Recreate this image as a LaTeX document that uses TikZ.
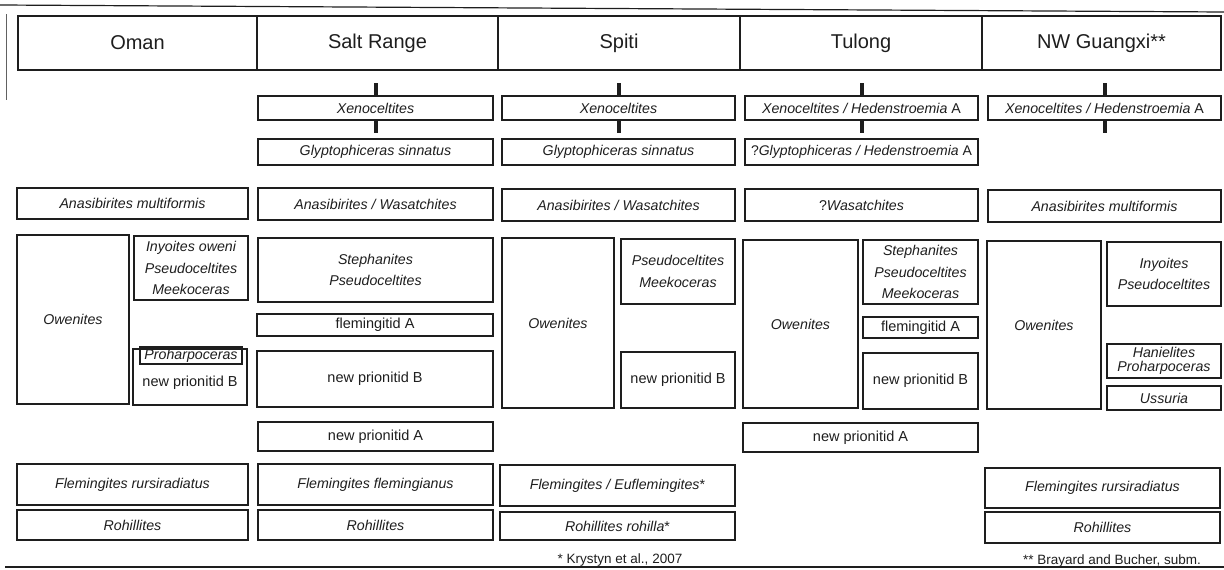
\documentclass[tikz,border=0pt]{standalone}
\usepackage{fontspec}
\setmainfont{Liberation Sans}
\definecolor{ink}{RGB}{30,30,30}
\newcommand{\spbox}[7][]{\node[bx,#1,minimum width={#5-#3},minimum height={#6-#4}] (#2) at ({(#3+#5)/2},{(#4+#6)/2}) {#7};}
\begin{document}
\begin{tikzpicture}[x=1pt,y=-1pt,
  bx/.style={draw=ink,line width=1.2pt,inner sep=0pt,text=ink,align=center,font=\fontsize{14.2}{21.5}\selectfont\itshape},
  hd/.style={font=\fontsize{20}{24}\selectfont\upshape},
  up/.style={font=\fontsize{14.5}{21.5}\selectfont\upshape},
  tight/.style={font=\fontsize{14.2}{14.5}\selectfont\itshape},
  txt/.style={text=ink,inner sep=0pt,align=center},
  tickbar/.style={draw=ink,line width=4pt},
  rule/.style={draw=ink,line width=1.2pt}]
\useasboundingbox (0,0) rectangle (1224,570);
% frame lines
\coordinate (tl) at (0,5); \coordinate (tr) at (1224,12);
\draw[rule] (tl) -- (tr);
\coordinate (lt) at (6,14); \coordinate (lb) at (6,100);
\draw[draw=ink!70,line width=1pt] (lt) -- (lb);
\coordinate (bl) at (5,567); \coordinate (br) at (1224,567);
\draw[rule] (bl) -- (br);
% headers
\spbox[hd]{h1}{18}{16}{257}{70}{Oman}
\spbox[hd]{h2}{257}{16}{498}{70}{Salt Range}
\spbox[hd]{h3}{498}{16}{740}{70}{Spiti}
\spbox[hd]{h4}{740}{16}{982}{70}{Tulong}
\spbox[hd]{h5}{982}{16}{1221}{70}{NW Guangxi**}
% Xenoceltites row
\spbox{sx}{258}{96}{493}{120}{Xenoceltites}
\spbox{px}{502}{96}{735}{120}{Xenoceltites}
\spbox{tx}{745}{96}{978}{120}{Xenoceltites / Hedenstroemia \upshape A}
\spbox{nx}{988}{96}{1221}{120}{Xenoceltites / Hedenstroemia \upshape A}
\foreach \n in {sx,px,tx,nx}{
  \draw[tickbar] (\n.north) -- ++(0,-12);
  \draw[tickbar] (\n.south) -- ++(0,12);
}
% Glyptophiceras row
\spbox{sg}{258}{139}{493}{165}{Glyptophiceras sinnatus}
\spbox{pg}{502}{139}{735}{165}{Glyptophiceras sinnatus}
\spbox[font=\fontsize{14}{21.5}\selectfont\itshape]{tg}{745}{139}{978}{165}{{\upshape ?}Glyptophiceras / Hedenstroemia \upshape A}
% Anasibirites row
\spbox{oa}{17}{188}{248}{219}{Anasibirites multiformis}
\spbox{sa}{258}{188}{493}{220}{Anasibirites / Wasatchites}
\spbox{pa}{502}{189}{735}{221}{Anasibirites / Wasatchites}
\spbox{ta}{745}{189}{978}{221}{{\upshape ?}Wasatchites}
\spbox{na}{988}{190}{1221}{222}{Anasibirites multiformis}
% Oman middle
\spbox{oo}{17}{235}{129}{404}{Owenites}
\spbox{oi}{134}{236}{248}{300}{Inyoites oweni\\Pseudoceltites\\Meekoceras}
\spbox{ol}{133}{349}{247}{405}{}
\spbox{op}{140}{347}{242}{364}{Proharpoceras}
\node[txt,up] (onb) at (190,383) {new prionitid B};
% Salt Range middle
\spbox{ss}{258}{238}{493}{302}{Stephanites\\Pseudoceltites}
\spbox[up]{sf}{257}{314}{493}{336}{flemingitid A}
\spbox[up]{sb}{257}{351}{493}{407}{new prionitid B}
\spbox[up]{sn}{258}{422}{493}{451}{new prionitid A}
% Spiti middle
\spbox{po}{502}{238}{614}{408}{Owenites}
\spbox{pp}{621}{239}{735}{304}{Pseudoceltites\\Meekoceras}
\spbox[up]{pb}{621}{352}{735}{408}{new prionitid B}
% Tulong middle
\spbox{to}{743}{240}{858}{408}{Owenites}
\spbox{ts}{863}{240}{978}{304}{Stephanites\\Pseudoceltites\\Meekoceras}
\spbox[up]{tf}{863}{317}{978}{338}{flemingitid A}
\spbox[up]{tb}{863}{353}{978}{409}{new prionitid B}
\spbox[up]{tn}{743}{423}{978}{452}{new prionitid A}
% NW Guangxi middle
\spbox{no}{987}{241}{1101}{409}{Owenites}
\spbox{ni}{1107}{242}{1221}{306}{Inyoites\\Pseudoceltites}
\spbox[tight]{nh}{1107}{344}{1221}{378}{Hanielites\\Proharpoceras}
\spbox{nu}{1107}{386}{1221}{410}{Ussuria}
% Flemingites row
\spbox{of}{17}{464}{248}{505}{Flemingites rursiradiatus}
\spbox{sfl}{258}{464}{493}{505}{Flemingites flemingianus}
\spbox{pf}{500}{465}{735}{506}{Flemingites / Euflemingites{\upshape *}}
\spbox{nf}{985}{468}{1220}{508}{Flemingites rursiradiatus}
% Rohillites row
\spbox{or}{17}{510}{248}{540}{Rohillites}
\spbox{sr}{258}{510}{493}{540}{Rohillites}
\spbox{pr}{500}{512}{735}{540}{Rohillites rohilla{\upshape *}}
\spbox{nr}{985}{512}{1220}{543}{Rohillites}
% footnotes
\node[txt,font=\fontsize{13.5}{15}\selectfont] (fn1) at (620,560) {* Krystyn et al., 2007};
\node[txt,font=\fontsize{13.5}{15}\selectfont] (fn2) at (1112,561) {** Brayard and Bucher, subm.};
\end{tikzpicture}
\end{document}
